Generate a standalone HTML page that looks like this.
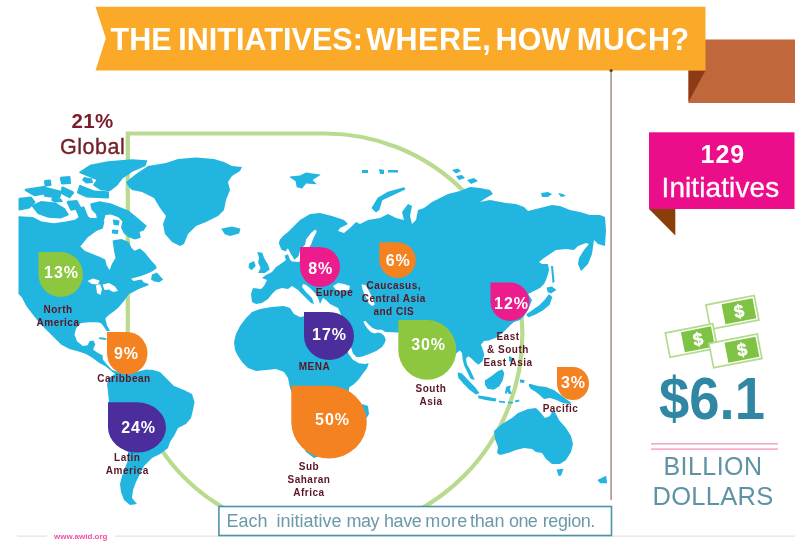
<!DOCTYPE html>
<html>
<head>
<meta charset="utf-8">
<title>The Initiatives: Where, How Much?</title>
<style>
html,body{margin:0;padding:0;background:#fff;}
body{width:800px;height:545px;position:relative;overflow:hidden;font-family:"Liberation Sans",sans-serif;}
#art{position:absolute;left:0;top:0;width:800px;height:545px;filter:blur(0.55px);}
.t,.pct,.lbl{filter:blur(0.45px);}
.t{position:absolute;white-space:nowrap;line-height:1;}
#title{left:110.5px;top:23.8px;font-size:30.5px;font-weight:bold;color:#fff;word-spacing:-2px;letter-spacing:0.05px;}
#g21{left:71.5px;top:111px;font-size:20.5px;font-weight:bold;color:#7b1c2a;letter-spacing:0.4px;}
#gglobal{left:60px;top:137.3px;font-size:21.5px;color:#74202a;letter-spacing:0.55px;-webkit-text-stroke:0.35px #74202a;}
#n129{left:700.5px;top:142px;font-size:25px;font-weight:bold;color:#fff;letter-spacing:1px;}
#ninit{left:661.5px;top:173.5px;font-size:28px;color:#fff;letter-spacing:0.1px;-webkit-text-stroke:0.3px #fff;}
#money61{left:659px;top:370px;font-size:58.5px;font-weight:bold;color:#2f87a3;transform:scaleX(0.93);transform-origin:0 0;}
#billion{left:663.5px;top:453.5px;font-size:25px;color:#5e93a6;letter-spacing:0.45px;}
#dollars{left:652.5px;top:483.5px;font-size:25.5px;color:#5e93a6;letter-spacing:0.3px;}
#caption{left:0;top:512.1px;width:800px;height:20px;font-size:18px;color:#6c99a9;}
#foot{left:54px;top:532.7px;font-size:8px;font-weight:bold;color:#ee4fa8;}
.pct{position:absolute;color:#fff;font-weight:bold;font-size:16px;line-height:1;white-space:nowrap;transform:translate(-50%,-50%);letter-spacing:0.9px;padding-left:0.9px;}
.lbl{position:absolute;color:#5b1524;font-size:10px;line-height:13px;text-align:center;white-space:nowrap;transform:translate(-50%,0);letter-spacing:0.5px;font-weight:bold;}
</style>
</head>
<body>
<svg id="art" viewBox="0 0 800 545" width="800" height="545">
  <!-- brown tab behind banner -->
  <rect x="688.5" y="39.5" width="106.5" height="63.5" fill="#c1673c"/>
  <polygon points="688.5,70.4 705.5,70.4 688.5,102" fill="#8e3a14"/>
  <!-- banner -->
  <polygon points="95.5,6.8 705.5,6.8 705.5,70.4 95.5,70.4 105.8,38.2" fill="#fba928"/>
  <!-- vertical divider -->
  <rect x="610.3" y="70" width="1.6" height="430" fill="#a8968e"/>
  <circle cx="611.1" cy="70.5" r="1.6" fill="#5a4038"/>
  <!-- global teardrop outline -->
  <path id="globe" d="M127.8,133.5 L325.1,133.5 A197.3,200.25 0 0 1 522.4,333.75 A197.3,200.25 0 0 1 325.1,534 C211.5,534 127.8,449.1 127.8,333.75 Z" fill="none" stroke="#b9db8f" stroke-width="4.2"/>
  <!-- MAP -->
  <g id="map" fill="#22b5e0" stroke="none">
    <polygon points="18.5,216.3 32.8,217 41.5,221.5 53.8,223.3 66,221.5 74.8,219.8 80,216.3 85.3,214.5 90.5,218 97.5,218 104.5,221.5 102.8,228.5 96.4,231 87.6,237.6 80.3,246.4 84.7,250.8 92,253.7 99.4,256.7 105.2,259.6 106.7,265.5 109.6,270 111.9,264 115.5,258 114,250.8 112.6,240.5 121.4,239 128.7,242 131.7,247.9 134.6,250.8 140,248.6 145.2,253 150.3,259.5 155.5,265.3 156.8,267.9 152.9,271 147.8,273.6 141,276 131,278.8 133.6,280.9 141.3,279.6 143.9,282.6 149,284 147.8,285.5 138.8,289 128.5,294.4 124.7,300 118,308 113,312 108.5,315.3 105.3,318.5 107,325.5 110,330.8 106.8,331.2 103.2,325.8 101,323.2 97.6,322.2 89.4,322.2 81,323 76.2,328 74.5,334.6 77,341.2 82.8,346 87.7,345.3 89.4,341.2 93.5,340.4 95.3,344.5 93,349.5 97.6,352.8 102.6,355.2 102.8,359.4 106.7,364.3 112,370 118,372 126,371 122,378 113,372.5 105.9,366.5 99.3,363 92.7,358 86,354 77.8,351.3 69.5,349 61.3,344.8 56.3,339.8 48,331.5 39.8,323.2 33.2,315 26.6,306.5 21.6,297 18.5,294"/>
    <polygon points="109,378 118,372 126,370 136,372 146,369.5 153,370 160,372 168,380 174,386 184,390 192,394 194.5,402 193,410 191,418 186,424 178,428 174,436 170,442 168,448 160,454 152,458 144,466 140,474 136,482 133,490 132,498 137,504 130,505 124,500 121,492 120,484 122,476 125,468 128,460 128,452 118,444 112,430 110,416 109,402 108,392 107,384"/>
    <polygon points="126,182 136,174 148,166 166,163 178,159 196,157.6 214,159 224,162 232,166 242,167 240,171 232,176 228,182 230,190 226,200 224,210 218,216 206,222 196,226 188,234 184,244 180,246 172,242 165,234 163,224 166,216 160,208 154,198 142,192 132,190 128,186"/>
    <polygon points="221.7,229.2 224.7,234.2 230.1,236.0 239.1,233.4 240.4,229.1 240.1,228.6 231.9,226.6 221.9,228.6"/>
    <polygon points="90.1,164.8 79.5,171.8 79.3,172.9 96.3,179.9 93.3,184.6 93.2,185.2 93.6,185.7 100.6,190.2 109.7,191.3 110.3,191.1 117.3,185.4 122.6,178.4 132.9,171.5 145.1,166.2 145.5,165.8 147.2,161.3 147.2,160.6 146.6,160.2 132.4,159.2 107.9,161.2"/>
    <polygon points="90.2,203.9 91.6,209.8 96.0,214.2 97.5,221.5 100.5,224.7 101.1,224.6 104.1,220.2 105.5,214.9 110.9,214.4 118.3,217.3 122.5,221.5 121.0,227.5 123.9,233.4 128.4,237.1 134.7,239.4 140.8,237.8 139.5,232.0 143.7,230.4 146.8,225.7 129.0,210.7 111.2,203.4 99.5,201.2 90.5,203.4"/>
    <polygon points="18.5,198.8 18.5,209.5 18.9,210.3 19.7,210.5 29.5,208.5 35.2,203.0 35.5,202.4 35.3,201.7 31.8,196.9 30.9,196.5 19.4,197.8 18.8,198.1"/>
    <polygon points="25.2,191.0 33.9,196.0 34.7,196.2 48.7,193.8 49.6,193.1 49.5,192.0 46.0,186.4 44.8,185.8 25.6,188.8 24.8,189.3 24.6,190.3"/>
    <polygon points="32.0,206.4 37.7,213.9 48.2,217.7 60.7,218.5 68.2,215.4 68.8,214.8 68.6,214.0 64.8,208.2 55.6,202.5 41.1,201.1 32.4,204.9 31.8,205.5"/>
    <polygon points="45.6,188.2 43.8,195.2 44.0,196.2 44.8,196.7 58.8,198.7 59.6,198.5 60.1,197.9 61.9,192.4 61.9,191.4 61.1,190.8 47.1,187.3 46.2,187.5"/>
    <polygon points="61.3,187.4 60.8,192.9 61.4,194.1 68.9,198.1 69.7,198.2 70.4,197.7 73.9,193.3 74.2,192.3 73.5,191.5 63.0,186.4 61.9,186.5"/>
    <polygon points="66.7,202.5 70.2,210.0 70.8,210.6 71.6,210.7 80.3,208.7 81.1,208.0 81.1,206.9 77.1,199.9 67.7,200.8 66.8,201.4"/>
    <polygon points="79.0,185.7 77.0,192.3 77.1,193.0 77.6,193.5 86.6,197.4 108.0,198.5 108.7,198.2 109.0,197.5 109.0,192.3 108.7,191.6 108.1,191.3 94.2,190.5 80.4,185.1 79.6,185.1"/>
    <polygon points="278.8,243 280,239.5 283,236 288,232 294,226 300,220 310,214 320,213 332,216 344,220 348,224 340,228 338,231 344,233 350,228 356,222 360,224 368,220 380,218 388,214 396,218 404,220 402,212 408,204 412,206 410,216 412,224 416,220 418,210 424,208 432,202 440,198 448,194 460,191 470,187 480,188 490,190 493,194 486,198 480,202 490,200 506,203 516,204 524,207 528,211 536,209 544,207 552,205 560,206 570,210 580,212 590,215 600,215 605,217 606,230 605,246 598,244 594,240 592,254 588,264 581,271 578,264 579,258 584,250 589,244 586,243 578,246 574,250 566,249 556,250 550,254 544,258 539,262 542,264 548,264 549,270 548,274 546,280 544,284 540,288 534,291 528,294 532,300 528,310 524,316 520,320 514,322 510.5,325 504.3,331.2 496.5,337.5 488.7,340.6 484,341 481,344.5 482.4,348.4 484.3,354.6 482.6,361 478.5,364.8 474.6,361.7 471.5,358.5 468.4,356.2 466,358.5 466.8,364 470.3,370.2 473.3,376.5 474.8,380 470.5,378.8 467.2,371.8 464.2,365.6 462.6,359.3 462,353 459.8,350.5 456.7,353 450,360 440,370 430,378 424,372 418,356 412,344 404,336 399,332.5 385.4,332 381.7,329.8 377,329.8 372.5,328 368.9,324.7 365.6,321 363.6,321.3 363.8,322.9 367,328 370.7,332 374.4,333.4 378,332.6 381.7,333.4 384.4,336.2 385.8,339.9 384.4,343.5 381.7,347.2 376.2,350.9 369.8,353.8 362.6,356.4 356.7,357.2 353,353.5 351.6,349 348,340 344,330 342,318 340,312 338,308 330,304 326,300 323,298 320,304 318,298 316,294 310,288 306,285 303,284 302,287 306,292 312,298 314,304 311,303 308,300 304,296 298,290 292,286 288,289 282,288 276,290 272,294 268,299 262,303 256,304 252,302 251,294 253,288 261,289 264,286 267,280 262,278 266,275 272,272 276,267 282,263 286,260 284.6,255.8 288,254.3 290,259.8 292,261.5 299,262 302,258 309.4,247 311,244.6 313.5,238 316.8,231.4 315.1,229.5 311,233 306,239.6 305.2,244.6 303,247 300.3,249.5 298.6,256 294.5,259.8 291.2,254.5 287.9,248.2 285.4,251.4 281.3,249.5"/>
    <polygon points="252,312 260,309 272,307 284,306 290,308 294,314 300,317 306,316 320,314 340,318 344,332 346.5,344 348.3,353.5 352.6,359.6 358.9,363.3 365.5,364 368.7,363 367,368.2 362.6,374 358.2,380 353.8,384.3 349.4,387.3 348,395 350,405 352,420 344,432 336,444 326,454 314,458 306,452 300,440 296,424 298,410 294,398 290,388 288,378 284,372 276,369 266,370 256,371 248,368 242,362 238,356 235,350 234,342 236,334 240,326 246,318"/>
    <polygon points="362,404 368,406 369,414 364,422 360,418"/>
    <polygon points="75.6,209.7 79.1,218.4 79.5,218.9 80.2,219.0 87.2,217.3 87.9,216.8 87.9,215.9 84.4,207.1 84.0,206.6 83.3,206.5 76.3,208.3 75.6,208.8"/>
    <polygon points="59.8,178.0 61.0,183.7 61.4,184.3 62.1,184.5 70.1,184.0 70.8,183.7 71.0,182.9 70.5,176.9 70.1,176.2 69.4,176.0 60.7,176.8 60.0,177.2"/>
    <polygon points="44.0,181.1 44.5,185.6 44.9,186.3 45.6,186.5 50.6,186.0 51.3,185.6 51.5,184.9 51.0,180.4 50.6,179.7 49.9,179.5 44.9,180.0 44.2,180.4"/>
    <polygon points="112.9,220.1 113.6,224.9 118.9,225.5 119.5,220.6 113.6,219.4 113.1,219.6"/>
    <polygon points="111.9,230.0 112.1,233.4 117.9,234.0 118.5,230.1 112.6,229.4"/>
    <polygon points="99,337.6 103,337.4 106.5,338.6 106.5,340 102,339.4 99,339"/>
    <polygon points="84,177 92,178.5 93,183 86,183.5 82,180"/>
    <polygon points="52,197.5 61,198.5 63,202 55,202.5 51,200.5"/>
    <polygon points="151,279.4 152,274.5 156.8,272.4 163.2,279.4 159.3,282.2 154.2,281.5"/>
    <polygon points="257.3,252 262.3,252.8 264,257.8 268,264.4 269.7,269.4 264.8,272.9 258.2,272.9 260.6,267.7 258.2,262.8 259,257.8"/>
    <polygon points="249,263.6 254,261 255.7,266 251.6,270.2 248.6,267.7"/>
    <polygon points="289.8,177.3 295.6,181.2 296.7,187.3 301.9,188.4 302.3,188.2 306.2,183.4 316.3,184.3 316.3,183.7 312.6,180.1 320.4,175.1 320.1,174.6 306.1,172.6 299.9,175.6 290.0,176.6 289.7,176.8"/>
    <polygon points="362,170 368,170 368,173 362,173"/>
    <polygon points="379,169 384,170 384,174 380,174"/>
    <polygon points="388,170 398,170 398,172.5 388,172.5"/>
    <polygon points="371.7,208.3 375.7,212.3 376.2,212.3 379.4,210.1 382.3,200.3 405.2,189.4 405.3,188.8 404.3,187.4 403.9,187.2 387.8,191.7 377.7,197.8 371.7,207.8"/>
    <polygon points="452,170 458,168.5 461,171 456,173.5"/>
    <polygon points="456,176 462,175 465,178 459,180"/>
    <polygon points="467,180 474,178 478,181 471,184"/>
    <polygon points="541,193 548,192 552,194 548,197 542,197"/>
    <polygon points="558,193 563,194 566,196 561,197"/>
    <polygon points="551,266 553,266 554.5,282 552.5,283"/>
    <polygon points="546.6,288.1 547.6,292.1 550.9,293.4 556.4,290.0 551.9,286.6 546.9,287.6"/>
    <polygon points="548.8,294.3 544.3,300.3 539.3,305.3 526.3,314.3 526.3,314.7 528.3,317.2 528.6,317.3 536.1,314.3 543.1,310.3 549.7,304.7 552.3,296.9 549.2,294.3"/>
    <polygon points="457.6,373.1 458.3,377.8 463.0,383.3 469.3,389.7 476.0,394.5 479.2,393.3 479.3,392.7 474.9,387.0 461.7,373.3 458.1,372.6"/>
    <polygon points="484.8,380.4 484.9,384.5 487.4,388.8 493.6,389.8 499.4,386.2 502.8,379.9 504.3,373.2 502.3,369.6 501.8,369.4 497.8,371.3 491.6,376.0"/>
    <polygon points="478.1,395.8 478.1,397.8 478.4,398.2 485.5,399.9 494.9,401.6 495.4,401.4 496.4,399.2 496.1,398.6 487.2,396.8 478.6,395.4"/>
    <polygon points="499,400.8 505,401.2 505,403 499,402.6"/>
    <polygon points="506.2,386.7 504.9,393.1 506.7,394.1 507.6,391.4 508.9,394.3 511.8,393.6 509.8,389.5 510.8,385.7 510.4,385.5"/>
    <polygon points="509,356 513,358 512,363 509,361"/>
    <polygon points="520,379.4 524.6,380 524,383 520,382.6"/>
    <polygon points="529,384 532,384.5 531.6,387.5 529,387"/>
    <polygon points="508,401.5 513,402 513,403.6 508,403.2"/>
    <polygon points="515,400.5 519,399.5 519.5,401.5 515.5,402.5"/>
    <polygon points="529.1,385.3 530.5,388.8 535.5,391.7 539.4,394.7 543.4,398.6 544.1,398.9 549.9,397.9 555.7,399.8 563.6,403.2 569.9,403.9 570.6,403.6 570.9,402.9 570.5,402.3 554.3,390.2 546.1,387.1 538.2,386.1 530.2,384.1 529.6,384.2 529.2,384.7"/>
    <polygon points="494,431 502,424 512,418 518,413 528,409 536,408 540,412 545,418 550,416 553,410 556,414 559,420 566,428 571,436 573,444 571,452 566,460 560,464 552,464 546,459 542,453 536,452 532,449 524,448 516,450 508,453 500,455 497,453 498,447 495,439"/>
    <polygon points="556.6,470.1 558.6,475.7 559.1,476.0 561.1,475.4 563.4,469.1 563.2,468.7 556.9,469.6"/>
    <polygon points="597.8,480.2 600.0,483.3 607.2,483.2 606.1,475.7 597.9,479.7"/>
    <polygon fill="#fff" points="333,286 338,283 344,284 350,286 349,290 342,291 336,290"/>
    <polygon fill="#fff" points="361.5,284.5 365.5,285 369,291 373,299 374.8,304.5 372,306 368.5,303 366,297 363,291"/>
    <polygon fill="#fff" points="87.5,281 93,278.5 99.5,280.5 98,284.5 92,284"/>
    <polygon fill="#fff" points="96,285.5 100,284 102,289 100.5,295 97,293"/>
    <polygon fill="#fff" points="102.5,284.5 109,283 115,286.5 118,291 113,292 109,289.5 104.5,290"/>
  </g>
  <!-- MARKERS -->
  <g id="markers">
    <path d="M38.5,252 L60.75,252 A22.25,22.5 0 1 1 38.5,274.5 Z" fill="#8dc63f"/>
    <path d="M107,332 L127.25,332 A20.25,21.25 0 1 1 107,353.25 Z" fill="#f58220"/>
    <path d="M108,402.3 L137.0,402.3 A29.0,25.150000000000006 0 1 1 108,427.45000000000005 Z" fill="#4b2e9b"/>
    <path d="M300,247 L320.0,247 A20.0,20.0 0 1 1 300,267.0 Z" fill="#ec1c8c"/>
    <path d="M304,312 L329.0,312 A25.0,24.0 0 1 1 304,336.0 Z" fill="#4b2e9b"/>
    <path d="M379.3,242.3 L397.55,242.3 A18.25,17.849999999999994 0 1 1 379.3,260.15 Z" fill="#f58220"/>
    <path d="M398.3,320 L427.3,320 A29.0,29.900000000000006 0 1 1 398.3,349.9 Z" fill="#8dc63f"/>
    <path d="M291.3,385.8 L329.05,385.8 A37.75,36.349999999999994 0 1 1 291.3,422.15 Z" fill="#f58220"/>
    <path d="M490.5,282.5 L510.0,282.5 A19.5,19.25 0 1 1 490.5,301.75 Z" fill="#ec1c8c"/>
    <path d="M557,367 L573.0,367 A16.0,16.5 0 1 1 557,383.5 Z" fill="#f58220"/>
  </g>
  <!-- pink flag -->
  <polygon points="649,209 675.3,209 675.3,235.5" fill="#8a3f0a"/>
  <rect x="649" y="132.3" width="145.5" height="76.7" fill="#ec0d8b"/>
  <!-- money -->
  <g id="money">
    <g transform="translate(705.9,305) rotate(-11)">
      <rect x="0" y="0" width="49.2" height="24.8" fill="#fff" stroke="#b4db8c" stroke-width="1.7"/>
      <rect x="15.5" y="2.2" width="31.500000000000004" height="20.4" fill="#7fc344"/>
      <text x="31.25" y="18.6" text-anchor="middle" font-family="Liberation Sans, sans-serif" font-weight="bold" font-size="18" fill="#fff" stroke="#fff" stroke-width="0.4">$</text>
    </g>
    <g transform="translate(665.3,333) rotate(-11)">
      <rect x="0" y="0" width="48.3" height="24.8" fill="#fff" stroke="#b4db8c" stroke-width="1.7"/>
      <rect x="15.5" y="2.2" width="30.599999999999998" height="20.4" fill="#7fc344"/>
      <text x="30.799999999999997" y="18.6" text-anchor="middle" font-family="Liberation Sans, sans-serif" font-weight="bold" font-size="18" fill="#fff" stroke="#fff" stroke-width="0.4">$</text>
    </g>
    <g transform="translate(708.9,343.5) rotate(-11)">
      <rect x="0" y="0" width="49.2" height="24.8" fill="#fff" stroke="#b4db8c" stroke-width="1.7"/>
      <rect x="15.5" y="2.2" width="31.500000000000004" height="20.4" fill="#7fc344"/>
      <text x="31.25" y="18.6" text-anchor="middle" font-family="Liberation Sans, sans-serif" font-weight="bold" font-size="18" fill="#fff" stroke="#fff" stroke-width="0.4">$</text>
    </g>
  </g>
  <!-- pink double rule -->
  <rect x="651" y="443" width="127" height="1.6" fill="#f4a9cb"/>
  <rect x="651" y="448.3" width="127" height="1.6" fill="#f4a9cb"/>
  <!-- footer rule -->
  <rect x="17" y="535.6" width="30" height="1" fill="#dcdcdc"/>
  <rect x="115" y="535.6" width="680" height="1" fill="#dcdcdc"/>
  <!-- caption box -->
  <rect x="218.9" y="506.5" width="392.6" height="29" fill="#fff" stroke="#4d93a8" stroke-width="1.6"/>
</svg>

<div class="t" id="title">THE INITIATIVES: <span style="margin-left:-3.2px;letter-spacing:0.5px">WHERE,</span> <span style="margin-left:-2.2px">HOW</span> <span style="letter-spacing:0.55px">MUCH?</span></div>

<!--MK-->
<div class="pct" style="left:61px;top:272.6px;">13%</div>
<div class="pct" style="left:126px;top:353.5px;">9%</div>
<div class="pct" style="left:138.2px;top:427.6px;">24%</div>
<div class="pct" style="left:320.3px;top:268.8px;">8%</div>
<div class="pct" style="left:329px;top:335px;">17%</div>
<div class="pct" style="left:397.8px;top:261.2px;">6%</div>
<div class="pct" style="left:428.2px;top:344.5px;">30%</div>
<div class="pct" style="left:332px;top:419.6px;">50%</div>
<div class="pct" style="left:511px;top:304px;">12%</div>
<div class="pct" style="left:573px;top:382.6px;">3%</div>
<div class="lbl" style="left:58px;top:303.2px;">North<br>America</div>
<div class="lbl" style="left:124px;top:372px;">Caribbean</div>
<div class="lbl" style="left:127.3px;top:450.5px;">Latin<br>America</div>
<div class="lbl" style="left:334.5px;top:285.5px;">Europe</div>
<div class="lbl" style="left:314.5px;top:359.5px;">MENA</div>
<div class="lbl" style="left:393.8px;top:279.3px;">Caucasus,<br>Central Asia<br>and CIS</div>
<div class="lbl" style="left:431px;top:381.5px;">South<br>Asia</div>
<div class="lbl" style="left:309px;top:459.8px;">Sub<br>Saharan<br>Africa</div>
<div class="lbl" style="left:508px;top:329.5px;">East<br>&amp; South<br>East Asia</div>
<div class="lbl" style="left:560.5px;top:401.5px;">Pacific</div>
<!--/MK-->
<div class="t" id="g21">21%</div>
<div class="t" id="gglobal">Global</div>

<div class="t" id="n129">129</div>
<div class="t" id="ninit">Initiatives</div>
<div class="t" id="money61">$6.1</div>
<div class="t" id="billion">BILLION</div>
<div class="t" id="dollars">DOLLARS</div>
<div class="t" id="caption"><span style="position:absolute;left:226.5px;top:0;letter-spacing:0px">Each</span><span style="position:absolute;left:276.5px;top:0;letter-spacing:0px">initiative</span><span style="position:absolute;left:346.5px;top:0;letter-spacing:-0.5px">may</span><span style="position:absolute;left:384.0px;top:0;letter-spacing:-0.4px">have</span><span style="position:absolute;left:425.3px;top:0;letter-spacing:0.35px">more</span><span style="position:absolute;left:470.0px;top:0;letter-spacing:-0.2px">than</span><span style="position:absolute;left:509.0px;top:0;letter-spacing:-0.6px">one</span><span style="position:absolute;left:542.8px;top:0;letter-spacing:-0.42px">region.</span></div>
<div class="t" id="foot">www.awid.org</div>
</body>
</html>
